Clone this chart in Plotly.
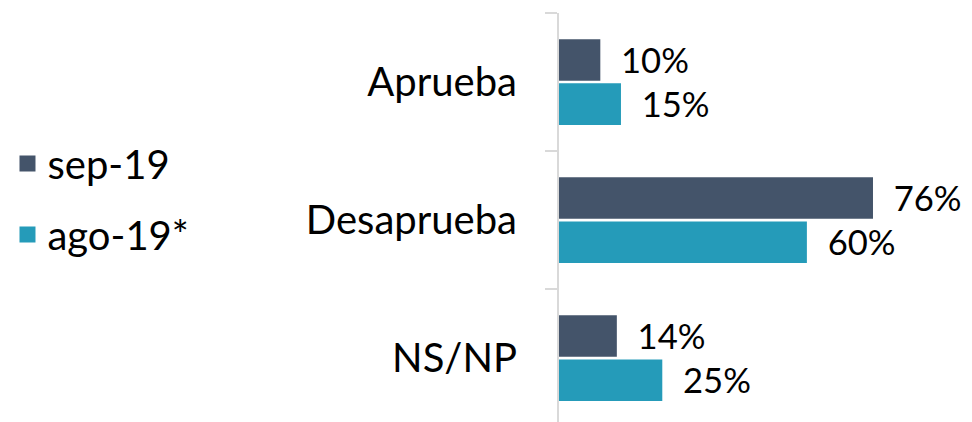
import plotly.graph_objects as go

categories = ["Aprueba", "Desaprueba", "NS/NP"]
series_names = ["sep-19", "ago-19*"]
sep19 = [10, 76, 14]
ago19 = [15, 60, 25]
colors = ["#44546A", "#259BB9"]

FONT = "Lato, Open Sans, sans-serif"
FS = 40

fig = go.Figure()
for i, (name, vals) in enumerate(zip(series_names, [sep19, ago19])):
    fig.add_trace(go.Bar(
        y=categories, x=vals, orientation="h", name=name,
        marker=dict(color=colors[i], line=dict(width=0)),
        text=[f"{v}%" for v in vals], texttemplate="  %{text}",
        textposition="outside", cliponaxis=False,
        textfont=dict(size=FS, color="#000000", family=FONT),
        showlegend=False,
    ))
# legend entries with larger square swatches
for i, name in enumerate(series_names):
    fig.add_trace(go.Scatter(
        x=[None], y=[None], mode="markers", name=name,
        marker=dict(symbol="square", size=18, color=colors[i]),
        legendgroup=name, showlegend=True,
    ))

fig.update_layout(
    width=972, height=422,
    margin=dict(l=551, r=0, t=5, b=0, autoexpand=False),
    paper_bgcolor="white", plot_bgcolor="white",
    barmode="group", bargap=0.36, bargroupgap=0.06,
    font=dict(family=FONT, color="#000000"),
    showlegend=True,
    legend=dict(
        xref="paper", yref="container", x=-1.31, y=0.7085,
        xanchor="left", yanchor="top",
        font=dict(size=FS, family=FONT, color="#000000"),
        tracegroupgap=16, itemwidth=30, itemsizing="trace",
        bgcolor="rgba(0,0,0,0)",
    ),
    xaxis=dict(range=[0, 101.9], visible=False, showgrid=False, zeroline=False,
               automargin=False),
    yaxis=dict(
        range=[2.52, -0.5], showgrid=False, zeroline=False, automargin=False,
        showline=True, linecolor="#D9D9D9", linewidth=2,
        ticks="outside", tickson="boundaries", ticklen=12,
        tickcolor="#D9D9D9", tickwidth=2,
        ticklabelstandoff=32,
        tickfont=dict(size=FS, family=FONT, color="#000000"),
    ),
)

fig.write_html("out.html")
